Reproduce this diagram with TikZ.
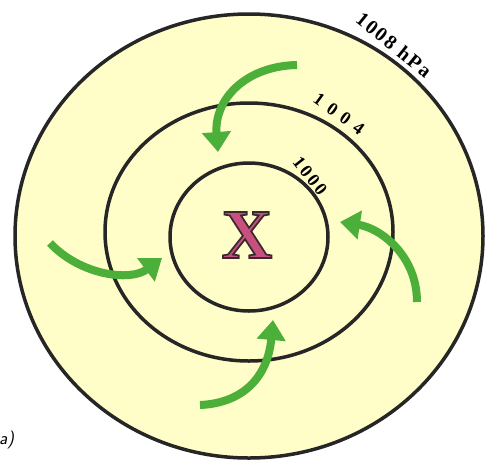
\documentclass[tikz,border=0pt]{standalone}
\usepackage{fontspec}
\usetikzlibrary{arrows.meta}
\definecolor{cream}{HTML}{FFFDC8}
\definecolor{windgreen}{HTML}{4CAF3A}
\definecolor{xpink}{HTML}{C8507E}
\definecolor{xdark}{HTML}{3A2A30}
\newfontfamily\xfont[FakeBold=2.5]{Liberation Serif Bold}
\newfontfamily\labfont{Liberation Serif Bold}
\begin{document}
\begin{tikzpicture}[x=1pt,y=-1pt,
  isobar/.style={draw=black!85, line width=3.5pt, fill=cream},
  wind/.style={draw=windgreen, line width=8pt, -{Triangle[width=28pt,length=20pt]}},
  lab/.style={inner sep=0pt}]
\useasboundingbox (0,0) rectangle (487,461);
\fill[white] (0,0) rectangle (487,461);
\draw[isobar] (249,236) ellipse [x radius=234, y radius=222];
\draw[isobar] (249,232) ellipse [x radius=144, y radius=129];
\draw[isobar] (249,237) ellipse [x radius=79, y radius=74];
\node[lab, rotate=-39, font={\labfont\fontsize{20}{20}\selectfont\addfontfeature{LetterSpace=10}}] (l1008) at (394,45) {1008~hPa};
\node[lab, rotate=-36, font={\labfont\fontsize{18}{18}\selectfont\addfontfeature{LetterSpace=40}}] (l1004) at (339,114) {1004};
\node[lab, rotate=-52, font={\labfont\fontsize{18}{18}\selectfont\addfontfeature{LetterSpace=15}}] (l1000) at (310,176) {1000};
\node[inner sep=0pt] (low) at (247,235) {\fontsize{70}{70}\xfont\color{xpink}\special{pdf:literal direct 0.227 0.165 0.188 RG}X};
\node[font=\sffamily\itshape\fontsize{18}{18}\selectfont, anchor=west, inner sep=0pt] (cap) at (-1,440) {a)};
\coordinate (a1s) at (297,65); \coordinate (a1e) at (218,152);
\coordinate (a2s) at (50,243); \coordinate (a2e) at (162,258);
\coordinate (a3s) at (200,405); \coordinate (a3e) at (273,320);
\coordinate (a4s) at (417,302); \coordinate (a4e) at (340,222);
\draw[wind] (a1s) .. controls (245,66) and (214,100) .. (a1e);
\draw[wind] (a2s) .. controls (80,275) and (130,282) .. (a2e);
\draw[wind] (a3s) .. controls (245,403) and (268,375) .. (a3e);
\draw[wind] (a4s) .. controls (417,255) and (380,228) .. (a4e);
\end{tikzpicture}
\end{document}
